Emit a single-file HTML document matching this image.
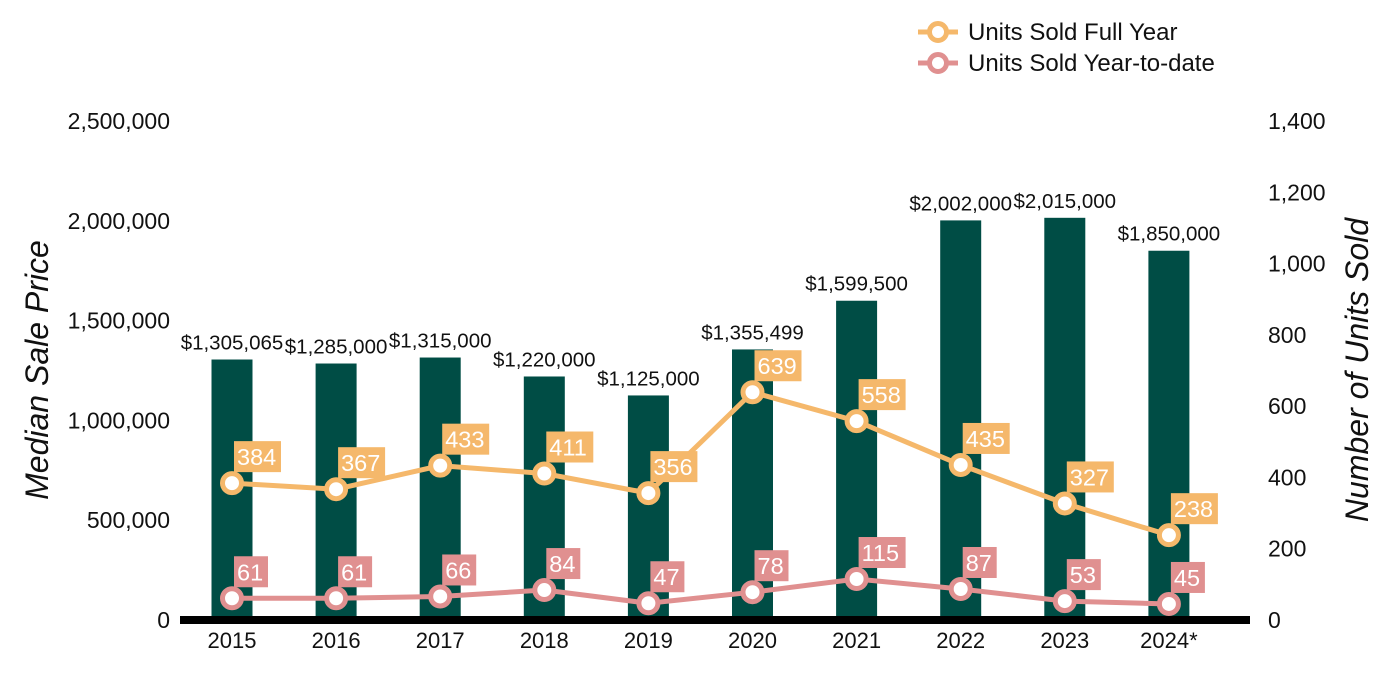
<!DOCTYPE html>
<html><head><meta charset="utf-8"><style>
body{margin:0;background:#fff;}
svg{display:block;font-family:"Liberation Sans",Arial,sans-serif;}
</style></head><body>
<svg id="chart" width="1400" height="700" xmlns="http://www.w3.org/2000/svg"></svg>
<script>
const categories=["2015","2016","2017","2018","2019","2020","2021","2022","2023","2024*"];
const medianPrice=[1305065,1285000,1315000,1220000,1125000,1355499,1599500,2002000,2015000,1850000];
const priceLabels=["$1,305,065","$1,285,000","$1,315,000","$1,220,000","$1,125,000","$1,355,499","$1,599,500","$2,002,000","$2,015,000","$1,850,000"];
const unitsFull=[384,367,433,411,356,639,558,435,327,238];
const unitsYTD=[61,61,66,84,47,78,115,87,53,45];
const leftTicks=[0,500000,1000000,1500000,2000000,2500000];
const rightTicks=[0,200,400,600,800,1000,1200,1400];

const NS="http://www.w3.org/2000/svg";
const svg=document.getElementById('chart');
function el(t,a,txt){const e=document.createElementNS(NS,t);for(const k in a)e.setAttribute(k,a[k]);if(txt!==undefined)e.textContent=txt;svg.appendChild(e);return e;}
const y0=620,yTop=121;
const yL=v=>y0-(v/2500000)*(y0-yTop);
const yR=v=>y0-(v/1400)*(y0-yTop);
const xC=i=>232+i*104.1;

leftTicks.forEach(v=>{const t=el('text',{x:170,y:yL(v)+8,'text-anchor':'end','font-size':23,fill:'#111'},v.toLocaleString('en-US'));
});
rightTicks.forEach(v=>{const t=el('text',{x:1268,y:yR(v)+8,'text-anchor':'start','font-size':23,fill:'#111'},v.toLocaleString('en-US'));
});
let t=el('text',{x:48,y:370,'text-anchor':'middle','font-size':32,'font-style':'italic',fill:'#111',transform:'rotate(-90 48 370)'},'Median Sale Price');

t=el('text',{x:1368,y:370,'text-anchor':'middle','font-size':32,'font-style':'italic',fill:'#111',transform:'rotate(-90 1368 370)'},'Number of Units Sold');


categories.forEach((c,i)=>{
 const b=el('rect',{x:xC(i)-20.5,y:yL(medianPrice[i]),width:41,height:y0-yL(medianPrice[i]),fill:'#004d45'});
 
 const l=el('text',{x:xC(i),y:yL(medianPrice[i])-10,'text-anchor':'middle','font-size':20.5,fill:'#111'},priceLabels[i]);
 
 const x=el('text',{x:xC(i),y:648,'text-anchor':'middle','font-size':22,fill:'#111'},c);
 
});
const ax=el('rect',{x:180,y:616,width:1070,height:8,fill:'#000'});


function series(vals,color,name){
 const pts=vals.map((v,i)=>xC(i)+','+yR(v)).join(' ');
 const p=el('polyline',{points:pts,fill:'none',stroke:color,'stroke-width':5});
 
 vals.forEach((v,i)=>{
  const cx=xC(i),cy=yR(v);
  const c=el('circle',{cx:cx,cy:cy,r:9.5,fill:'#fff',stroke:color,'stroke-width':5});
  
  const w=String(v).length*13+8;
  const r=el('rect',{x:cx+2,y:cy-42,width:w,height:31,fill:color});
  
  const tx=el('text',{x:cx+5,y:cy-18,'font-size':23.5,fill:'#fff'},String(v));
  
 });
}
series(unitsFull,'#f5b86b','units-full-year');
series(unitsYTD,'#e09090','units-ytd');

[['Units Sold Full Year','#f5b86b',32],['Units Sold Year-to-date','#e09090',63]].forEach(([n,c,y])=>{
 const g=el('line',{x1:918,y1:y,x2:958,y2:y,stroke:c,'stroke-width':5});
 
 const cc=el('circle',{cx:938,cy:y,r:8.5,fill:'#fff',stroke:c,'stroke-width':5});
 
 const tt=el('text',{x:968,y:y+8,'font-size':24,fill:'#111'},n);
 
});
</script>
</body></html>
